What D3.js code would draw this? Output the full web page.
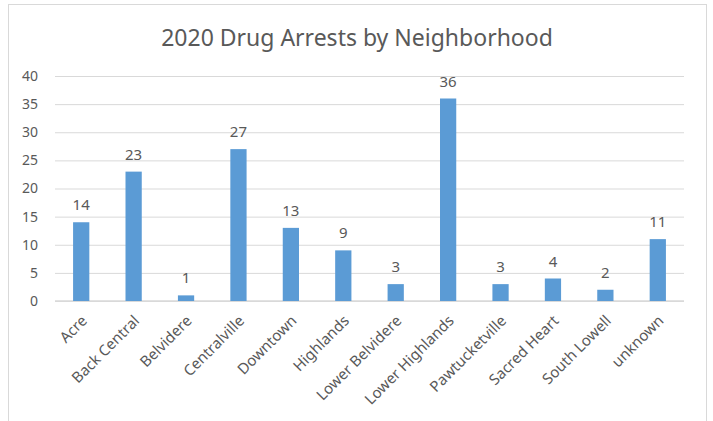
<!doctype html>
<html lang="en">
<head>
<meta charset="utf-8">
<title>2020 Drug Arrests by Neighborhood</title>
<script src="https://d3js.org/d3.v7.min.js"></script>
<style>
    body { margin: 0; background: #fff; }
    svg text { font-family: "Noto Sans", "Open Sans", sans-serif; fill: #595959; }
    .grid line { stroke: #d9d9d9; }
    .grid .domain { display: none; }
</style>
</head>
<body>
<svg width="713" height="421"></svg>
<script>
    var neighborhoods = ["Acre", "Back Central", "Belvidere", "Centralville", "Downtown", "Highlands",
        "Lower Belvidere", "Lower Highlands", "Pawtucketville", "Sacred Heart", "South Lowell", "unknown"];
    var arrests = [14, 23, 1, 27, 13, 9, 3, 36, 3, 4, 2, 11];
    var yTicks = [0, 5, 10, 15, 20, 25, 30, 35, 40];

    var margin = {left: 55, top: 76, right: 29, bottom: 120};
    var svg = d3.select("svg");
    var width = 713 - margin.left - margin.right;
    var height = 421 - margin.top - margin.bottom;

    // chart border
    svg.append("rect")
        .attr("x", 8.5).attr("y", 4.5)
        .attr("width", 698).attr("height", 430)
        .attr("fill", "none")
        .attr("stroke", "#d9d9d9");

    svg.append("text")
        .attr("x", 357)
        .attr("y", 46)
        .attr("text-anchor", "middle")
        .style("font-size", "23px")
        .text("2020 Drug Arrests by Neighborhood");

    var g = svg.append("g")
        .attr("transform", "translate(" + margin.left + "," + margin.top + ")");

    var x = d3.scaleBand()
        .domain(neighborhoods)
        .range([0, width])
        .paddingInner(0.69)
        .paddingOuter(0.345);

    var y = d3.scaleLinear()
        .domain([0, 40])
        .range([height, 0]);

    g.append("g")
        .attr("class", "grid")
        .call(d3.axisLeft(y).tickValues(yTicks).tickSize(-width).tickPadding(17))
        .selectAll("text")
        .style("font-size", "14px");

    // baseline
    g.append("line")
        .attr("x1", 0).attr("x2", width)
        .attr("y1", y(0)).attr("y2", y(0))
        .attr("stroke", "#d9d9d9")
        .attr("stroke-width", 1.5);

    g.selectAll(".bar")
        .data(arrests)
        .enter().append("rect")
        .attr("class", "bar")
        .attr("x", function(d, i) { return x(neighborhoods[i]); })
        .attr("y", function(d) { return y(d); })
        .attr("width", x.bandwidth())
        .attr("height", function(d) { return y(0) - y(d); })
        .attr("fill", "#5b9bd5");

    g.selectAll(".val")
        .data(arrests)
        .enter().append("text")
        .attr("class", "val")
        .attr("x", function(d, i) { return x(neighborhoods[i]) + x.bandwidth() / 2; })
        .attr("y", function(d) { return y(d) - 12; })
        .attr("text-anchor", "middle")
        .style("font-size", "15px")
        .text(function(d) { return d; });

    var xAxis = g.append("g")
        .attr("transform", "translate(0," + height + ")")
        .call(d3.axisBottom(x).tickSize(0).tickPadding(0));
    xAxis.select(".domain").remove();
    xAxis.selectAll("text")
        .style("font-size", "15px")
        .attr("text-anchor", "end")
        .attr("dy", "0.35em")
        .attr("transform", "translate(3,17) rotate(-45)");
</script>
</body>
</html>
